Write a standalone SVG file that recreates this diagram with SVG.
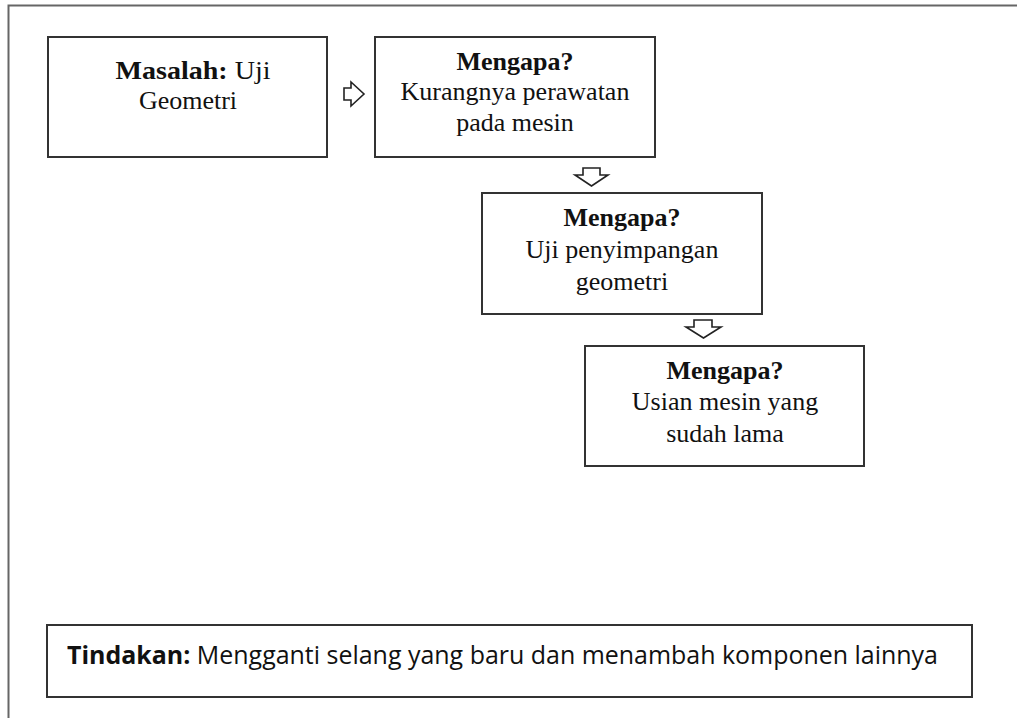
<svg xmlns="http://www.w3.org/2000/svg" width="1017" height="718" viewBox="0 0 1017 718">
<style>
.box{fill:#fff;stroke:#333;stroke-width:2}
.t{font-family:"Liberation Serif","Times New Roman",serif;font-size:26px;fill:#111;text-anchor:middle}
.b{font-weight:bold}
.arr{fill:#fff;stroke:#222;stroke-width:1.6;stroke-linejoin:miter}
.act{font-family:"Open Sans","Liberation Sans",sans-serif;font-size:25px;fill:#111}
</style>
<rect width="1017" height="718" fill="#fff"/>
<path d="M8.5,718 V5.5 H1017" fill="none" stroke="#666" stroke-width="2"/>
<g id="node-masalah">
<rect class="box" x="48" y="37" width="279" height="120"/>
<text class="t" x="193" y="79" textLength="155" lengthAdjust="spacingAndGlyphs"><tspan class="b">Masalah:</tspan> Uji</text>
<text class="t" x="188" y="109">Geometri</text>
</g>
<g id="node-mengapa1">
<rect class="box" x="375" y="37" width="280" height="120"/>
<text class="t b" x="515" y="70">Mengapa?</text>
<text class="t" x="515" y="100">Kurangnya perawatan</text>
<text class="t" x="515" y="131">pada mesin</text>
</g>
<g id="node-mengapa2">
<rect class="box" x="482" y="193" width="280" height="121"/>
<text class="t b" x="622" y="226">Mengapa?</text>
<text class="t" x="622" y="258">Uji penyimpangan</text>
<text class="t" x="622" y="290">geometri</text>
</g>
<g id="node-mengapa3">
<rect class="box" x="585" y="346" width="279" height="120"/>
<text class="t b" x="725" y="379">Mengapa?</text>
<text class="t" x="725" y="410">Usian mesin yang</text>
<text class="t" x="725" y="442">sudah lama</text>
</g>
<g id="node-tindakan">
<rect class="box" x="47" y="625" width="925" height="72"/>
<text class="act" x="67" y="664" textLength="871" lengthAdjust="spacingAndGlyphs"><tspan font-weight="bold">Tindakan:</tspan> Mengganti selang yang baru dan menambah komponen lainnya</text>
</g>
<g id="connectors">
<path class="arr" d="M344,88 H351 V82 L364,94 L351,106 V100 H344 Z"/>
<path class="arr" d="M583,168 H600 V175 H608 L591.5,186 L575,175 H583 Z"/>
<path class="arr" d="M694,320 H712 V327 H721 L703.5,338 L686,327 H694 Z"/>
</g>
</svg>
